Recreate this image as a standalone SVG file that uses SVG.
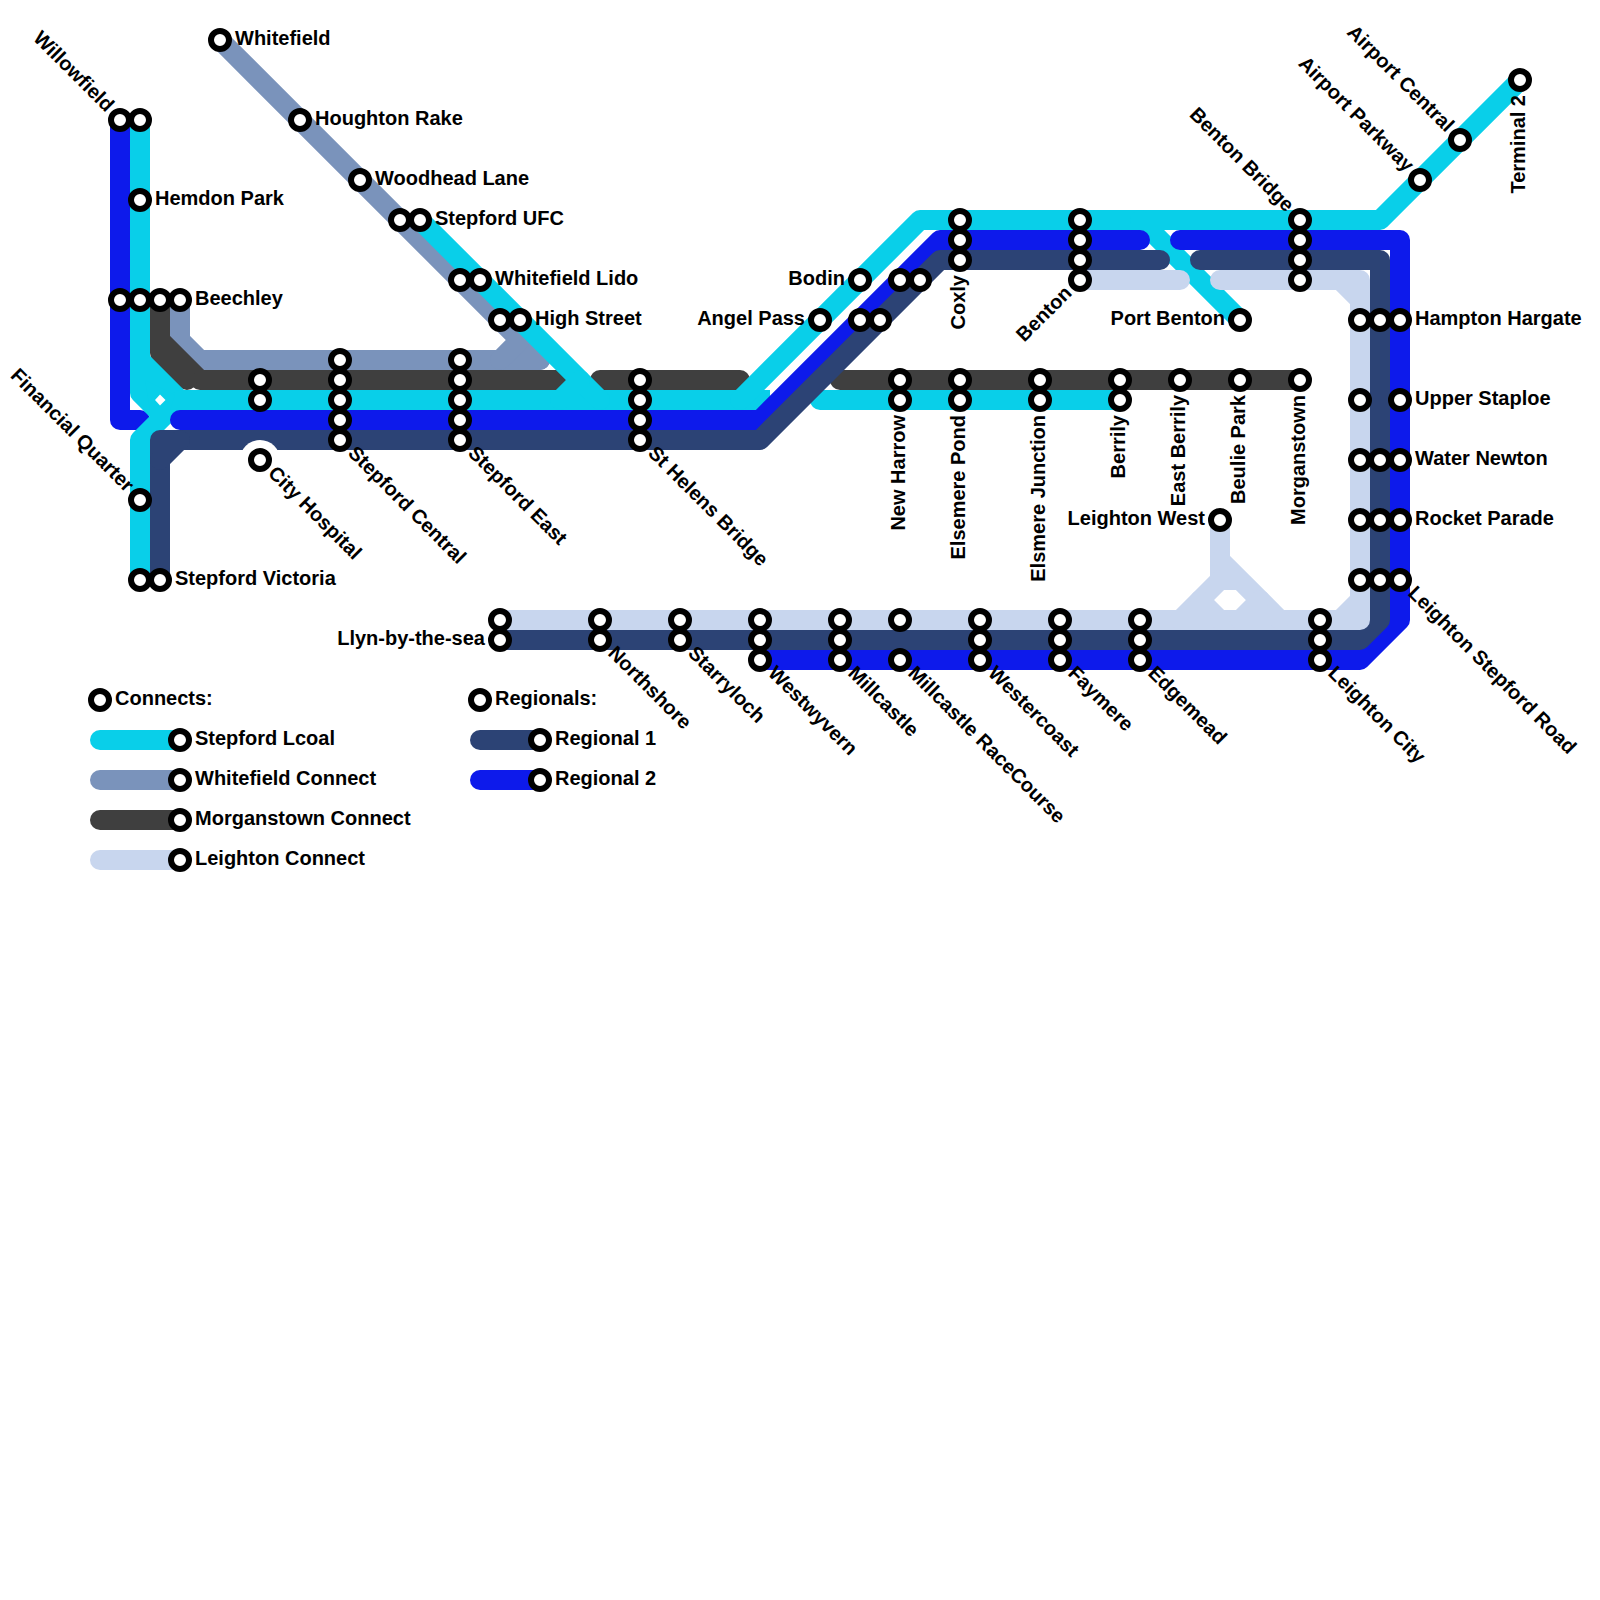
<svg xmlns="http://www.w3.org/2000/svg" width="1600" height="1600" viewBox="0 0 1600 1600">
<style>
.l{fill:none;stroke-width:20;stroke-linecap:round;stroke-linejoin:round}
.b{stroke-linecap:butt}
.cy{stroke:#09cfe9}.gr{stroke:#7a93bb}.dk{stroke:#3f3f3f}.r1{stroke:#2c4375}.r2{stroke:#0d1aeb}.lt{stroke:#c8d6ee}
.s{fill:#fff;stroke:#000;stroke-width:6}
text{font-family:"Liberation Sans",Arial,sans-serif;font-weight:700;font-size:20px;fill:#000}
.e{text-anchor:end}
</style>
<rect width="1600" height="1600" fill="#fff"/>
<g id="connectors">
<path class="l r2" d="M120 120V420H140"/>
<path class="l gr" d="M220 40L540 360"/>
<path class="l gr" d="M180 300V340L200 360H540"/>
<path class="l gr" d="M500 360L520 340"/>
<path class="l dk" d="M160 300V340L200 380H570"/>
<path class="l dk" d="M160 300V353L187 380"/>
<path class="l dk" d="M600 380H740"/>
<path class="l dk" d="M840 380H1300"/>
<path class="l cy" d="M140 120V360L180 400"/>
<path class="l cy" d="M140 120V393L160 413"/>
<path class="l cy" d="M140 580V440L180 400"/>
<polygon points="145,380 175,395 170,410 150,410" fill="#09cfe9"/>
<polygon points="155,400 160,394.5 165.5,400 160,405.5" fill="#fff"/>
<path class="l cy b" d="M180 400H770"/>
<path class="l cy" d="M740 400L920 220H1380L1520 80"/>
<path class="l cy" d="M420 220L600 400"/>
<path class="l cy" d="M560 400L580 380"/>
<path class="l cy" d="M820 400H1120"/>
<path class="l cy" d="M1140 220L1240 320"/>
<path class="l r2" d="M180 420H760L940 240H1140"/>
<path class="l r2" d="M1180 240H1400V620L1360 660H760"/>
<path class="l r1" d="M160 580V440H760L940 260H1160"/>
<path class="l r1" d="M160 460L180 440"/>
<path class="l r1" d="M1200 260H1380V620L1360 640H500"/>
<path class="l lt" d="M1080 280H1180"/>
<path class="l lt" d="M1220 280H1360V620H500"/>
<path class="l lt" d="M1340 280L1360 300"/>
<path class="l lt" d="M1340 620L1360 600"/>
<path class="l lt" d="M1220 520V580"/>
<path class="l lt" d="M1220 560L1280 620"/>
<path class="l lt" d="M1220 580L1180 620"/>
<path class="l lt b" d="M1220 580H1240"/>
<path class="l lt" d="M1200 600L1220 620"/>
<path class="l lt" d="M1240 620L1260 600"/>
</g>
<g id="st-whitefield"><circle class="s" cx="220" cy="40" r="9"/><text x="235" y="45">Whitefield</text></g>
<g id="st-houghton-rake"><circle class="s" cx="300" cy="120" r="9"/><text x="315" y="125">Houghton Rake</text></g>
<g id="st-woodhead-lane"><circle class="s" cx="360" cy="180" r="9"/><text x="375" y="185">Woodhead Lane</text></g>
<g id="st-stepford-ufc"><circle class="s" cx="400" cy="220" r="9"/><circle class="s" cx="420" cy="220" r="9"/><text x="435" y="225">Stepford UFC</text></g>
<g id="st-whitefield-lido"><circle class="s" cx="460" cy="280" r="9"/><circle class="s" cx="480" cy="280" r="9"/><text x="495" y="285">Whitefield Lido</text></g>
<g id="st-high-street"><circle class="s" cx="500" cy="320" r="9"/><circle class="s" cx="520" cy="320" r="9"/><text x="535" y="325">High Street</text></g>
<g id="st-willowfield"><circle class="s" cx="120" cy="120" r="9"/><circle class="s" cx="140" cy="120" r="9"/><text class="e" transform="translate(120 120) rotate(45)" x="-15" y="5">Willowfield</text></g>
<g id="st-hemdon-park"><circle class="s" cx="140" cy="200" r="9"/><text x="155" y="205">Hemdon Park</text></g>
<g id="st-beechley"><circle class="s" cx="120" cy="300" r="9"/><circle class="s" cx="140" cy="300" r="9"/><circle class="s" cx="160" cy="300" r="9"/><circle class="s" cx="180" cy="300" r="9"/><text x="195" y="305">Beechley</text></g>
<g id="st-financial-quarter"><circle class="s" cx="140" cy="500" r="9"/><text class="e" transform="translate(140 500) rotate(45)" x="-15" y="5">Financial Quarter</text></g>
<g id="st-stepford-victoria"><circle class="s" cx="140" cy="580" r="9"/><circle class="s" cx="160" cy="580" r="9"/><text x="175" y="585">Stepford Victoria</text></g>
<g id="st-city-hospital-link"><circle class="s" cx="260" cy="380" r="9"/><circle class="s" cx="260" cy="400" r="9"/></g>
<g id="st-city-hospital"><circle cx="260" cy="460" r="20" fill="#fff"/><circle class="s" cx="260" cy="460" r="9"/><text transform="translate(260 460) rotate(45)" x="15" y="5">City Hospital</text></g>
<g id="st-stepford-central"><circle class="s" cx="340" cy="360" r="9"/><circle class="s" cx="340" cy="380" r="9"/><circle class="s" cx="340" cy="400" r="9"/><circle class="s" cx="340" cy="420" r="9"/><circle class="s" cx="340" cy="440" r="9"/><text transform="translate(340 440) rotate(45)" x="15" y="5">Stepford Central</text></g>
<g id="st-stepford-east"><circle class="s" cx="460" cy="360" r="9"/><circle class="s" cx="460" cy="380" r="9"/><circle class="s" cx="460" cy="400" r="9"/><circle class="s" cx="460" cy="420" r="9"/><circle class="s" cx="460" cy="440" r="9"/><text transform="translate(460 440) rotate(45)" x="15" y="5">Stepford East</text></g>
<g id="st-st-helens-bridge"><circle class="s" cx="640" cy="380" r="9"/><circle class="s" cx="640" cy="400" r="9"/><circle class="s" cx="640" cy="420" r="9"/><circle class="s" cx="640" cy="440" r="9"/><text transform="translate(640 440) rotate(45)" x="15" y="5">St Helens Bridge</text></g>
<g id="st-bodin"><circle class="s" cx="860" cy="280" r="9"/><text class="e" x="845" y="285">Bodin</text></g>
<g id="st-angel-pass"><circle class="s" cx="820" cy="320" r="9"/><text class="e" x="805" y="325">Angel Pass</text></g>
<g id="st-bodin-regional"><circle class="s" cx="900" cy="280" r="9"/><circle class="s" cx="920" cy="280" r="9"/></g>
<g id="st-angel-pass-regional"><circle class="s" cx="860" cy="320" r="9"/><circle class="s" cx="880" cy="320" r="9"/></g>
<g id="st-coxly"><circle class="s" cx="960" cy="220" r="9"/><circle class="s" cx="960" cy="240" r="9"/><circle class="s" cx="960" cy="260" r="9"/><text class="e" transform="translate(960 260) rotate(-90)" x="-15" y="5">Coxly</text></g>
<g id="st-benton"><circle class="s" cx="1080" cy="220" r="9"/><circle class="s" cx="1080" cy="240" r="9"/><circle class="s" cx="1080" cy="260" r="9"/><circle class="s" cx="1080" cy="280" r="9"/><text class="e" transform="translate(1080 280) rotate(-45)" x="-15" y="5">Benton</text></g>
<g id="st-benton-bridge"><circle class="s" cx="1300" cy="220" r="9"/><circle class="s" cx="1300" cy="240" r="9"/><circle class="s" cx="1300" cy="260" r="9"/><circle class="s" cx="1300" cy="280" r="9"/><text class="e" transform="translate(1300 220) rotate(45)" x="-15" y="5">Benton Bridge</text></g>
<g id="st-port-benton"><circle class="s" cx="1240" cy="320" r="9"/><text class="e" x="1225" y="325">Port Benton</text></g>
<g id="st-new-harrow"><circle class="s" cx="900" cy="380" r="9"/><circle class="s" cx="900" cy="400" r="9"/><text class="e" transform="translate(900 400) rotate(-90)" x="-15" y="5">New Harrow</text></g>
<g id="st-elsemere-pond"><circle class="s" cx="960" cy="380" r="9"/><circle class="s" cx="960" cy="400" r="9"/><text class="e" transform="translate(960 400) rotate(-90)" x="-15" y="5">Elsemere Pond</text></g>
<g id="st-elsmere-junction"><circle class="s" cx="1040" cy="380" r="9"/><circle class="s" cx="1040" cy="400" r="9"/><text class="e" transform="translate(1040 400) rotate(-90)" x="-15" y="5">Elsmere Junction</text></g>
<g id="st-berrily"><circle class="s" cx="1120" cy="380" r="9"/><circle class="s" cx="1120" cy="400" r="9"/><text class="e" transform="translate(1120 400) rotate(-90)" x="-15" y="5">Berrily</text></g>
<g id="st-east-berrily"><circle class="s" cx="1180" cy="380" r="9"/><text class="e" transform="translate(1180 380) rotate(-90)" x="-15" y="5">East Berrily</text></g>
<g id="st-beulie-park"><circle class="s" cx="1240" cy="380" r="9"/><text class="e" transform="translate(1240 380) rotate(-90)" x="-15" y="5">Beulie Park</text></g>
<g id="st-morganstown"><circle class="s" cx="1300" cy="380" r="9"/><text class="e" transform="translate(1300 380) rotate(-90)" x="-15" y="5">Morganstown</text></g>
<g id="st-leighton-west"><circle class="s" cx="1220" cy="520" r="9"/><text class="e" x="1205" y="525">Leighton West</text></g>
<g id="st-hampton-hargate"><circle class="s" cx="1360" cy="320" r="9"/><circle class="s" cx="1380" cy="320" r="9"/><circle class="s" cx="1400" cy="320" r="9"/><text x="1415" y="325">Hampton Hargate</text></g>
<g id="st-upper-staploe"><circle class="s" cx="1360" cy="400" r="9"/><circle class="s" cx="1400" cy="400" r="9"/><text x="1415" y="405">Upper Staploe</text></g>
<g id="st-water-newton"><circle class="s" cx="1360" cy="460" r="9"/><circle class="s" cx="1380" cy="460" r="9"/><circle class="s" cx="1400" cy="460" r="9"/><text x="1415" y="465">Water Newton</text></g>
<g id="st-rocket-parade"><circle class="s" cx="1360" cy="520" r="9"/><circle class="s" cx="1380" cy="520" r="9"/><circle class="s" cx="1400" cy="520" r="9"/><text x="1415" y="525">Rocket Parade</text></g>
<g id="st-leighton-stepford-road"><circle class="s" cx="1360" cy="580" r="9"/><circle class="s" cx="1380" cy="580" r="9"/><circle class="s" cx="1400" cy="580" r="9"/><text transform="translate(1400 580) rotate(45)" x="15" y="5">Leighton Stepford Road</text></g>
<g id="st-airport-central"><circle class="s" cx="1460" cy="140" r="9"/><text class="e" transform="translate(1460 140) rotate(45)" x="-15" y="5">Airport Central</text></g>
<g id="st-airport-parkway"><circle class="s" cx="1420" cy="180" r="9"/><text class="e" transform="translate(1420 180) rotate(45)" x="-15" y="5">Airport Parkway</text></g>
<g id="st-terminal-2"><circle class="s" cx="1520" cy="80" r="9"/><text class="e" transform="translate(1520 80) rotate(-90)" x="-15" y="5">Terminal 2</text></g>
<g id="st-llyn-by-the-sea"><circle class="s" cx="500" cy="620" r="9"/><circle class="s" cx="500" cy="640" r="9"/><text class="e" x="485" y="645">Llyn-by-the-sea</text></g>
<g id="st-northshore"><circle class="s" cx="600" cy="620" r="9"/><circle class="s" cx="600" cy="640" r="9"/><text transform="translate(600 640) rotate(45)" x="15" y="5">Northshore</text></g>
<g id="st-starryloch"><circle class="s" cx="680" cy="620" r="9"/><circle class="s" cx="680" cy="640" r="9"/><text transform="translate(680 640) rotate(45)" x="15" y="5">Starryloch</text></g>
<g id="st-westwyvern"><circle class="s" cx="760" cy="620" r="9"/><circle class="s" cx="760" cy="640" r="9"/><circle class="s" cx="760" cy="660" r="9"/><text transform="translate(760 660) rotate(45)" x="15" y="5">Westwyvern</text></g>
<g id="st-millcastle"><circle class="s" cx="840" cy="620" r="9"/><circle class="s" cx="840" cy="640" r="9"/><circle class="s" cx="840" cy="660" r="9"/><text transform="translate(840 660) rotate(45)" x="15" y="5">Millcastle</text></g>
<g id="st-millcastle-racecourse"><circle class="s" cx="900" cy="620" r="9"/><circle class="s" cx="900" cy="660" r="9"/><text transform="translate(900 660) rotate(45)" x="15" y="5">Millcastle RaceCourse</text></g>
<g id="st-westercoast"><circle class="s" cx="980" cy="620" r="9"/><circle class="s" cx="980" cy="640" r="9"/><circle class="s" cx="980" cy="660" r="9"/><text transform="translate(980 660) rotate(45)" x="15" y="5">Westercoast</text></g>
<g id="st-faymere"><circle class="s" cx="1060" cy="620" r="9"/><circle class="s" cx="1060" cy="640" r="9"/><circle class="s" cx="1060" cy="660" r="9"/><text transform="translate(1060 660) rotate(45)" x="15" y="5">Faymere</text></g>
<g id="st-edgemead"><circle class="s" cx="1140" cy="620" r="9"/><circle class="s" cx="1140" cy="640" r="9"/><circle class="s" cx="1140" cy="660" r="9"/><text transform="translate(1140 660) rotate(45)" x="15" y="5">Edgemead</text></g>
<g id="st-leighton-city"><circle class="s" cx="1320" cy="620" r="9"/><circle class="s" cx="1320" cy="640" r="9"/><circle class="s" cx="1320" cy="660" r="9"/><text transform="translate(1320 660) rotate(45)" x="15" y="5">Leighton City</text></g>
<g id="legend-connects"><circle class="s" cx="100" cy="700" r="9"/><text x="115" y="705">Connects:</text></g>
<g id="legend-stepford-lcoal"><path class="l cy" d="M100 740H180"/><circle class="s" cx="180" cy="740" r="9"/><text x="195" y="745">Stepford Lcoal</text></g>
<g id="legend-whitefield-connect"><path class="l gr" d="M100 780H180"/><circle class="s" cx="180" cy="780" r="9"/><text x="195" y="785">Whitefield Connect</text></g>
<g id="legend-morganstown-connect"><path class="l dk" d="M100 820H180"/><circle class="s" cx="180" cy="820" r="9"/><text x="195" y="825">Morganstown Connect</text></g>
<g id="legend-leighton-connect"><path class="l lt" d="M100 860H180"/><circle class="s" cx="180" cy="860" r="9"/><text x="195" y="865">Leighton Connect</text></g>
<g id="legend-regionals"><circle class="s" cx="480" cy="700" r="9"/><text x="495" y="705">Regionals:</text></g>
<g id="legend-regional-1"><path class="l r1" d="M480 740H540"/><circle class="s" cx="540" cy="740" r="9"/><text x="555" y="745">Regional 1</text></g>
<g id="legend-regional-2"><path class="l r2" d="M480 780H540"/><circle class="s" cx="540" cy="780" r="9"/><text x="555" y="785">Regional 2</text></g>
</svg>
